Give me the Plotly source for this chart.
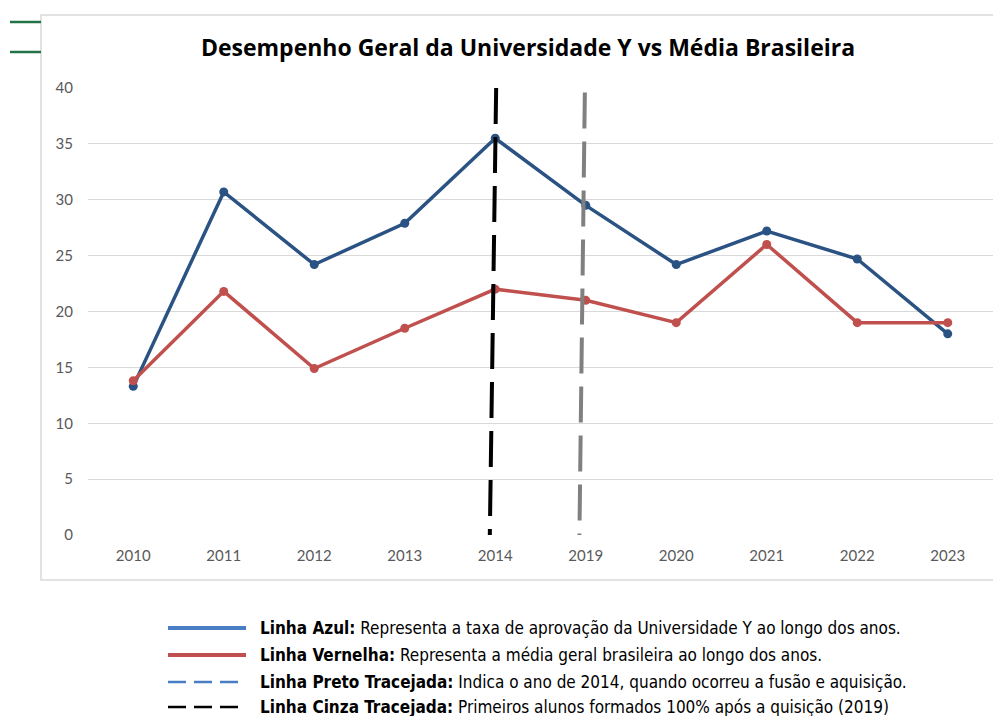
import plotly.graph_objects as go

years = ["2010", "2011", "2012", "2013", "2014", "2019", "2020", "2021", "2022", "2023"]
univ_y = [13.3, 30.7, 24.2, 27.9, 35.5, 29.5, 24.2, 27.2, 24.7, 18.0]
media_br = [13.8, 21.8, 14.9, 18.5, 22.0, 21.0, 19.0, 26.0, 19.0, 19.0]
ytick_vals = [0, 5, 10, 15, 20, 25, 30, 35, 40]

# reference lines (category index positions, slight slant as in original)
line_2014_x = [4.01, 3.94]
line_2014_y = [40, 0]
line_2019_x = [4.99, 4.93]
line_2019_y = [39.6, 0]

legend_items = [
    ("Linha Azul:", " Representa a taxa de aprovação da Universidade Y ao longo dos anos."),
    ("Linha Vernelha:", " Representa a média geral brasileira ao longo dos anos."),
    ("Linha Preto Tracejada:", " Indica o ano de 2014, quando ocorreu a fusão e aquisição."),
    ("Linha Cinza Tracejada:", " Primeiros alunos formados 100% após a quisição (2019)"),
]

OFF = 8  # page body margin
W, H = 1001 - 2 * OFF, 724 - 2 * OFF
# plot area in page pixels
L, R, T, B = 88, 993, 88, 535
xs = list(range(len(years)))

BLUE = "#2A5283"
RED = "#C0504D"

fig = go.Figure()
fig.add_trace(go.Scatter(x=xs, y=univ_y, mode="lines+markers",
                         line=dict(color=BLUE, width=3.5), marker=dict(size=9, color=BLUE),
                         showlegend=False))
fig.add_trace(go.Scatter(x=xs, y=media_br, mode="lines+markers",
                         line=dict(color=RED, width=3.5), marker=dict(size=9, color=RED),
                         showlegend=False))
fig.add_trace(go.Scatter(x=line_2014_x, y=line_2014_y, mode="lines",
                         line=dict(color="#000000", width=4, dash="36px,13px"), showlegend=False))
fig.add_trace(go.Scatter(x=line_2019_x, y=line_2019_y, mode="lines",
                         line=dict(color="#808080", width=4, dash="36px,13px"), showlegend=False))


def px(x):
    return (x - L) / (R - L)


def py(y):
    return (B - y) / (B - T)


shapes = []
# chart area border
shapes.append(dict(type="rect", xref="paper", yref="paper", x0=px(41), x1=px(1010), y0=py(580), y1=py(15),
                   line=dict(color="#D9D9D9", width=1.5), layer="below"))
# green decorative marks at top-left
for gy in (22, 52):
    shapes.append(dict(type="line", xref="paper", yref="paper", x0=px(10), x1=px(41), y0=py(gy), y1=py(gy),
                       line=dict(color="#217346", width=2.5)))

# custom legend
leg_y = [628, 655, 682, 707]
leg_styles = [
    dict(color="#4A7EC4", width=4, dash="solid"),
    dict(color="#C0504D", width=4, dash="solid"),
    dict(color="#4A7EC4", width=2.5, dash="18px,8px"),
    dict(color="#000000", width=2.5, dash="18px,8px"),
]
annotations = []
for (bold, rest), yy, st in zip(legend_items, leg_y, leg_styles):
    shapes.append(dict(type="line", xref="paper", yref="paper", x0=px(168), x1=px(246), y0=py(yy), y1=py(yy),
                       line=st))
    annotations.append(dict(xref="paper", yref="paper", x=px(258), y=py(yy), xanchor="left", yanchor="middle",
                            text=f"<b>{bold}</b>{rest}", showarrow=False,
                            font=dict(family="Liberation Sans Narrow, DejaVu Sans Condensed, Arial", size=17,
                                      color="#000000")))

fig.update_layout(
    width=W, height=H,
    margin=dict(l=L - OFF, r=W - (R - OFF), t=T - OFF, b=H - (B - OFF)),
    paper_bgcolor="white", plot_bgcolor="white",
    title=dict(text="<b>Desempenho Geral da Universidade Y vs Média Brasileira</b>",
               x=(528 - OFF) / W, xanchor="center", y=1 - (48 - OFF) / H, yanchor="middle", yref="container",
               font=dict(family="Open Sans, Liberation Sans, Arial", size=23, color="#000000")),
    xaxis=dict(range=[-0.5, len(years) - 0.5], tickmode="array", tickvals=xs, ticktext=years,
               showgrid=False, zeroline=False, showline=False, ticks="", ticklabelstandoff=10,
               tickfont=dict(family="Lato, Open Sans, Arial", size=15, color="#595959"), fixedrange=True),
    yaxis=dict(range=[0, 40], tickmode="array", tickvals=ytick_vals,
               showgrid=True, gridcolor="#D9D9D9", gridwidth=1, zeroline=False, showline=False,
               ticks="", ticklabelstandoff=14,
               tickfont=dict(family="Lato, Open Sans, Arial", size=15, color="#595959"), fixedrange=True),
    shapes=shapes,
    annotations=annotations,
)

fig.write_html("out.html")
